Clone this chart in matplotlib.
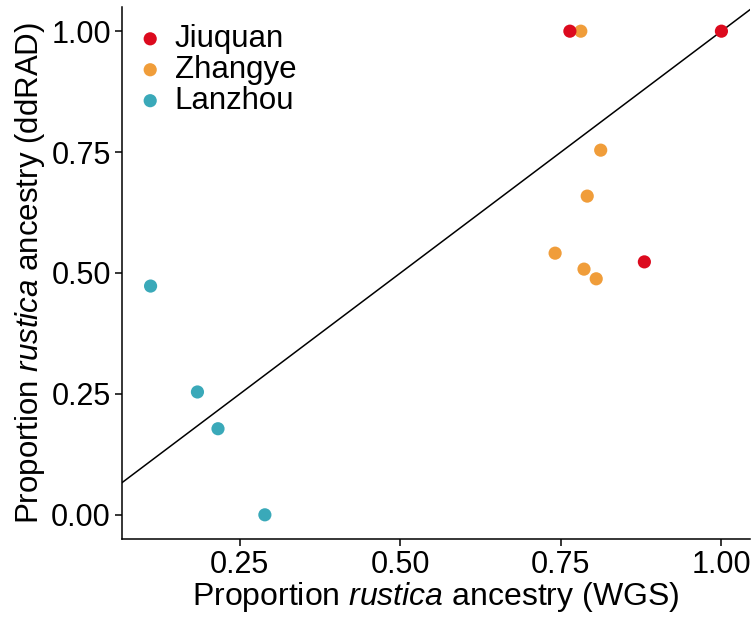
import matplotlib
matplotlib.use("Agg")
import matplotlib.pyplot as plt

plt.rcParams['font.family'] = ['Liberation Sans', 'DejaVu Sans']
plt.rcParams['mathtext.fontset'] = 'custom'
plt.rcParams['mathtext.rm'] = 'Liberation Sans'
plt.rcParams['mathtext.it'] = 'Liberation Sans:italic'

# Ancestry estimates per individual
jiuquan_wgs = [0.764, 0.880, 1.000]
jiuquan_rad = [1.000, 0.523, 1.000]
zhangye_wgs = [0.781, 0.812, 0.791, 0.741, 0.786, 0.805]
zhangye_rad = [1.000, 0.754, 0.659, 0.541, 0.508, 0.488]
lanzhou_wgs = [0.111, 0.184, 0.216, 0.289]
lanzhou_rad = [0.473, 0.254, 0.178, 0.000]

groups = ["Jiuquan", "Zhangye", "Lanzhou"]
colors = ["#DC0A1E", "#F09D3A", "#3AA9B9"]
xticks = [0.25, 0.50, 0.75, 1.00]
yticks = [0.00, 0.25, 0.50, 0.75, 1.00]

fig = plt.figure(figsize=(7.54, 6.2), dpi=100)
ax = fig.add_axes([122/754, 1-539/620, (750-122)/754, (539-7)/620])

ax.axline((0, 0), slope=1, color="black", lw=1.1, zorder=1)

for i, (name, xs, ys, c) in enumerate(zip(groups,
                                          [jiuquan_wgs, zhangye_wgs, lanzhou_wgs],
                                          [jiuquan_rad, zhangye_rad, lanzhou_rad],
                                          colors)):
    ax.scatter(xs, ys, s=90, color=c, edgecolors="none", label=name,
               zorder=5 - i)

ax.set_xlim(0.0665, 1.0445)
ax.set_ylim(-0.05, 1.05)
ax.set_xticks(xticks)
ax.set_yticks(yticks)
ax.set_xticklabels([f"{v:.2f}" for v in xticks])
ax.set_yticklabels([f"{v:.2f}" for v in yticks])

for s in ["top", "right"]:
    ax.spines[s].set_visible(False)
for s in ["left", "bottom"]:
    ax.spines[s].set_linewidth(1.1)
ax.tick_params(axis="both", direction="out", length=5, width=1.1,
               labelsize=22, colors="black", pad=3)

ax.set_xlabel("Proportion $\\it{rustica}$ ancestry (WGS)", fontsize=23, labelpad=0)
ax.set_ylabel("Proportion $\\it{rustica}$ ancestry (ddRAD)", fontsize=22.5, labelpad=3)

leg = ax.legend(loc="upper left", frameon=False, fontsize=22.5,
                handlelength=0.8, handletextpad=0.38, labelspacing=0.03,
                borderaxespad=0.0, borderpad=0.0,
                bbox_to_anchor=(0.025, 0.968), markerscale=1.0)

fig.savefig("out.png", dpi=100)
